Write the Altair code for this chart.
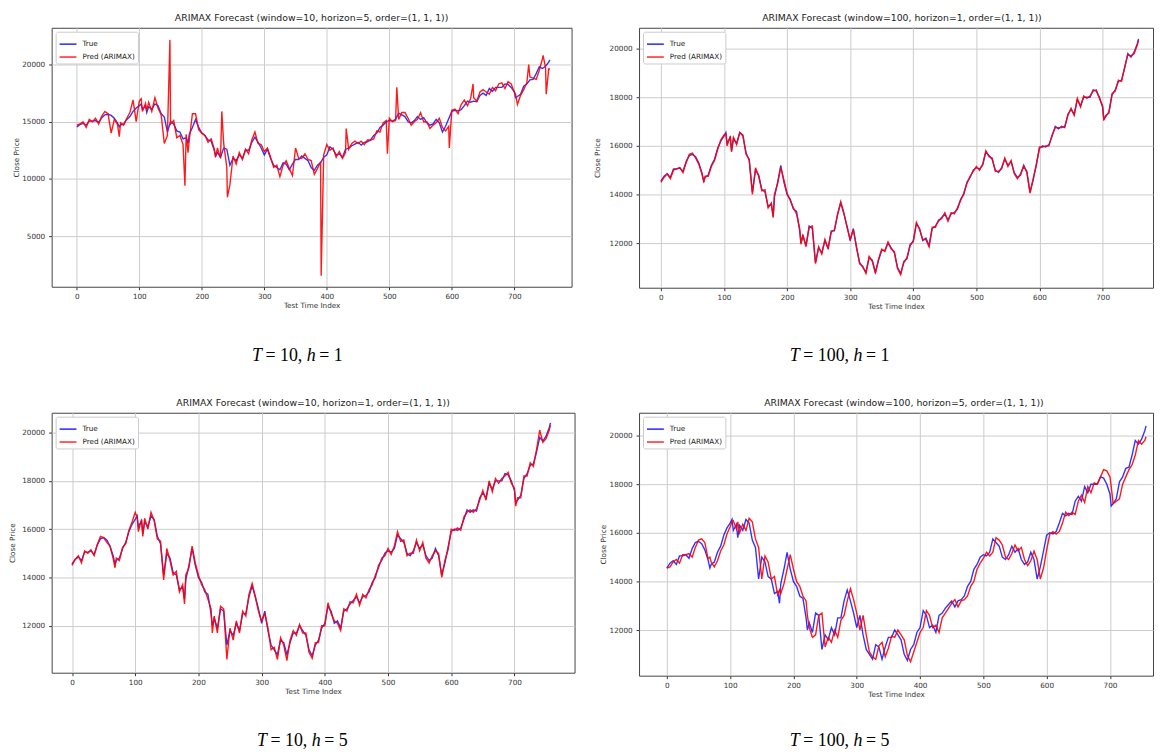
import altair as alt
import pandas as pd

# ---------------- data ----------------
IDX = [0, 5, 10, 15, 20, 25, 30, 35, 40, 45,
       50, 55, 60, 65, 68, 70, 75, 80, 85, 90, 95,
       100, 103, 105, 110, 112, 115, 120, 125, 130, 135, 140, 145,
       150, 155, 160, 165, 170, 175, 178, 180, 185, 190, 195,
       200, 205, 210, 215, 220, 222, 225, 230, 235, 240, 245,
       250, 255, 260, 265, 270, 275, 280, 285, 290, 295,
       300, 305, 310, 315, 320, 325, 330, 335, 340, 345,
       350, 355, 360, 365, 370, 375, 380, 385, 390, 395,
       400, 405, 410, 415, 420, 425, 430, 435, 440, 445,
       450, 455, 460, 465, 470, 475, 480, 485, 490, 495,
       500, 505, 510, 515, 520, 525, 530, 535, 540, 545,
       550, 555, 560, 565, 570, 575, 580, 585, 590, 595,
       600, 605, 610, 615, 620, 625, 630, 635, 640, 645,
       650, 655, 660, 665, 670, 675, 680, 685, 690, 695,
       700, 702, 705, 710, 715, 720, 725, 730, 735, 740, 745,
       750, 755, 757]

TRUE = [14550, 14750, 14850, 14700, 15050, 15050, 15100, 14950, 15350, 15600,
        15650, 15550, 15300, 14900, 14550, 14700, 14800, 15200, 15450, 15900, 16200,
        16400, 16550, 16100, 16350, 15800, 16300, 16100, 16550, 16400, 15700, 15400, 14100,
        15000, 14800, 14200, 14100, 13500, 13600, 13100, 13900, 14500, 15200, 14500,
        14000, 13800, 13400, 13300, 12500, 12000, 12300, 11900, 12700, 12600, 11200,
        11800, 11600, 12100, 11800, 12500, 12500, 13200, 13650, 13200, 12700,
        12100, 12600, 11800, 11200, 11000, 10800, 11400, 11300, 10800, 11300,
        11700, 11700, 12000, 11800, 11600, 11000, 10750, 11200, 11400, 11900,
        12100, 12800, 12600, 12100, 12200, 11900, 12600, 12700, 12900, 13050,
        13200, 12950, 13200, 13250, 13400, 13800, 14000, 14500, 14700, 15000,
        15100, 15050, 15200, 15750, 15600, 15450, 15000, 14900, 15100, 15450,
        15200, 15350, 14900, 14700, 14800, 15200, 14900, 14100, 14600, 15250,
        15900, 16000, 15950, 16050, 16400, 16800, 16700, 16800, 16750, 17300,
        17500, 17300, 17900, 17650, 18000, 18000, 18000, 18300, 18250, 18000,
        17600, 17100, 17200, 17400, 18100, 18300, 18650, 18700, 19200, 19800, 19650,
        19850, 20200, 20400]

# top-left panel (window=10, horizon=5): noisy prediction + isolated spikes
PRED_TL = [14700, 14800, 15000, 14500, 15200, 15000, 15300, 14800, 15500, 15900,
           15700, 14000, 15200, 14800, 13700, 14900, 14700, 15300, 15800, 16900, 15000,
           16800, 17000, 15900, 16600, 16000, 16700, 15900, 17100, 16200, 15600, 13100, 13800,
           14800, 15100, 13600, 13800, 13000, 13900, 12300, 13400, 15700, 15700, 14300,
           14000, 13800, 13200, 13500, 12600, 11900, 12700, 11800, 13100, 11000, 9500,
           12000, 11300, 12300, 11700, 12600, 12200, 13400, 14100, 13100, 13000,
           12400, 12700, 11900, 11000, 11200, 10200, 11200, 11600, 10900, 10300,
           12700, 11800, 11800, 12200, 11700, 11600, 10400, 10900, 11500, 12100,
           13000, 12500, 12700, 11900, 12400, 11800, 12300, 12600, 13100, 13300,
           13100, 13300, 13000, 13400, 13400, 13500, 14200, 14100, 14900, 15100,
           15300, 15000, 15100, 15200, 15800, 15800, 15300, 14700, 15000, 15200,
           15800, 15000, 15000, 14400, 14700, 14900, 15300, 14500, 14200, 14600,
           16000, 16100, 15700, 16500, 16900, 16400, 17000, 17100, 16800, 17600,
           17800, 17600, 17400, 18000, 17700, 18300, 18400, 17900, 18500, 18300,
           17600, 17400, 16500, 17300, 17800, 18400, 18900, 18800, 18700, 19500, 20500,
           19700, 19600, 19600]
SPIKE_TL_IDX = [149, 173, 232, 241, 391, 431, 497, 512, 596, 634, 723, 746, 751]
SPIKE_TL_VAL = [22150, 9400, 15900, 8400, 1550, 14400, 12200, 18000, 12700, 18300, 20000, 20800, 17400]

# top-right panel (window=100, horizon=1)
PRED_TR = [14500, 14700, 14850, 14650, 15000, 15050, 15100, 14900, 15300, 15650,
           15700, 15500, 15250, 14850, 14500, 14750, 14750, 15150, 15400, 15850, 16250,
           16450, 16500, 16000, 16400, 15750, 16350, 16050, 16550, 16450, 15650, 15450, 14000,
           15100, 14750, 14150, 14200, 13450, 13650, 13050, 14000, 14450, 15100, 14600,
           14050, 13750, 13450, 13200, 12600, 11950, 12350, 11850, 12650, 12700, 11150,
           11850, 11550, 12150, 11750, 12450, 12550, 13150, 13700, 13250, 12650,
           12150, 12550, 11850, 11150, 11050, 10750, 11450, 11250, 10750, 11350,
           11750, 11650, 12050, 11750, 11650, 10950, 10700, 11250, 11350, 11950,
           12050, 12850, 12550, 12150, 12150, 11850, 12650, 12650, 12950, 13000,
           13250, 12900, 13250, 13200, 13450, 13750, 14050, 14450, 14750, 14950,
           15150, 15000, 15250, 15800, 15550, 15500, 14950, 14950, 15050, 15500,
           15150, 15400, 14850, 14650, 14850, 15150, 14950, 14050, 14650, 15200,
           15950, 15950, 16000, 16000, 16450, 16750, 16750, 16750, 16800, 17250,
           17550, 17250, 17950, 17600, 18050, 17950, 18050, 18250, 18300, 17950,
           17650, 17050, 17250, 17350, 18150, 18250, 18700, 18650, 19250, 19750, 19700,
           19800, 20150, 20350]

# bottom-left panel (window=10, horizon=1)
PRED_BL = [14500, 14750, 14900, 14600, 15100, 15000, 15150, 14900, 15350, 15700,
           15650, 15450, 15300, 14800, 14400, 14800, 14700, 15250, 15400, 15950, 16300,
           16700, 16500, 15900, 16400, 15700, 16450, 16000, 16700, 16350, 15600, 15500, 13900,
           15200, 14700, 14100, 14250, 13400, 13700, 12900, 14100, 14400, 15300, 14600,
           14100, 13700, 13500, 13100, 12700, 11700, 12400, 11700, 12800, 12700, 10600,
           11900, 11400, 12200, 11700, 12600, 12400, 13300, 13750, 13200, 12600,
           12200, 12500, 11900, 11000, 11100, 10600, 11500, 11200, 10550, 11400,
           11800, 11600, 12050, 11700, 11700, 10900, 10650, 11300, 11300, 12000,
           12000, 12950, 12500, 12200, 12100, 11800, 12700, 12600, 13000, 12950,
           13300, 12850, 13300, 13150, 13500, 13700, 14100, 14400, 14800, 14900,
           15200, 14950, 15300, 15900, 15500, 15550, 14900, 15000, 15000, 15550,
           15100, 15450, 14800, 14600, 14900, 15100, 15000, 14000, 14700, 15150,
           16000, 15950, 16050, 15950, 16500, 16700, 16800, 16700, 16850, 17200,
           17600, 17200, 18000, 17550, 18100, 17900, 18100, 18200, 18350, 17900,
           17700, 16950, 17300, 17300, 18200, 18200, 18750, 18600, 19300, 20100, 19600,
           19750, 20100, 20300]

# bottom-right panel (window=100, horizon=5): lagged prediction
PRED_BR = [14550, 14600, 14800, 14900, 14750, 15100, 15100, 15150, 15000, 15400,
           15700, 15750, 15600, 14950, 15000, 14800, 14600, 14850, 15250, 15500, 15950,
           16250, 16450, 16500, 16150, 16450, 16000, 16350, 16100, 16600, 16450, 15750, 15400,
           14100, 15050, 14800, 14100, 14200, 13450, 13650, 13500, 13900, 14500, 15100,
           14500, 14000, 13800, 13400, 13200, 12600, 12100, 11700, 11800, 12600, 12700,
           11300, 11700, 11500, 12000, 11700, 12400, 12600, 13200, 13700, 13250,
           12700, 12000, 12600, 11800, 11100, 10900, 10800, 11350, 11500, 10900,
           11250, 11750, 11700, 12000, 11800, 11600, 10950, 10700, 11100, 11500,
           11900, 12100, 12800, 12600, 12100, 12200, 11900, 12500, 12700, 12900,
           13100, 13250, 12950, 13200, 13250, 13400, 13800, 14000, 14500, 14750,
           14950, 15200, 15050, 15200, 15800, 15700, 15500, 15000, 14900, 15150,
           15500, 15250, 15400, 14900, 14650, 14850, 15250, 14900, 14100, 14550,
           15300, 15950, 16050, 15950, 16050, 16400, 16850, 16700, 16850, 16750,
           17300, 17550, 17250, 17900, 17650, 18050, 18000, 18300, 18600, 18550,
           18300, 17900, 17200, 17300, 17400, 18000, 18300, 18600, 18800, 19200, 19800,
           19650, 19800, 19950]

TITLES = [
    "ARIMAX Forecast (window=10, horizon=5, order=(1, 1, 1))",
    "ARIMAX Forecast (window=100, horizon=1, order=(1, 1, 1))",
    "ARIMAX Forecast (window=10, horizon=1, order=(1, 1, 1))",
    "ARIMAX Forecast (window=100, horizon=5, order=(1, 1, 1))",
]
CAP_T = ["10", "100", "10", "100"]
CAP_H = ["1", "1", "5", "5"]
X_TICKS = [0, 100, 200, 300, 400, 500, 600, 700]
Y_TICKS_WIDE = [5000, 10000, 15000, 20000]
Y_TICKS = [12000, 14000, 16000, 18000, 20000]
SERIES = ["True", "Pred (ARIMAX)"]

# ---------------- build tables ----------------
def frame(idx, vals, name):
    return pd.DataFrame({"idx": idx, "val": vals, "series": name})

true_df = frame(IDX, TRUE, "True")
tl = pd.concat([frame(IDX, PRED_TL, "Pred (ARIMAX)"),
                frame(SPIKE_TL_IDX, SPIKE_TL_VAL, "Pred (ARIMAX)")]).sort_values("idx")
preds = [tl,
         frame(IDX, PRED_TR, "Pred (ARIMAX)"),
         frame(IDX, PRED_BL, "Pred (ARIMAX)"),
         frame(IDX, PRED_BR, "Pred (ARIMAX)")]

# layout settings per panel (pixels / axis ranges, not data)
PANELS = [
    dict(w=524, h=261, xd=[-40.2, 791.6], yd=[579, 23208], yt=Y_TICKS_WIDE, tx=-35, dx=0, cx=202, cy=331),
    dict(w=518, h=262, xd=[-34.6, 779.9], yd=[10163, 20857], yt=Y_TICKS, tx=-42, dx=6, cx=152, cy=331),
    dict(w=527, h=262, xd=[-32.2, 795.1], yd=[10053, 20822], yt=Y_TICKS, tx=-39, dx=0, cx=207, cy=331),
    dict(w=518, h=265, xd=[-43.9, 768.0], yd=[10122, 20939], yt=Y_TICKS, tx=-36, dx=8, cx=152, cy=331),
]

color_scale = alt.Scale(domain=SERIES, range=["#0000ff", "#ff0000"])
legend = alt.Legend(orient="top-left", offset=4, title=None, fillColor="white",
                    strokeColor="#cccccc", cornerRadius=2, padding=3,
                    symbolType="stroke", symbolSize=289, symbolStrokeWidth=1.5,
                    symbolOpacity=0.85, labelFontSize=7.3, labelFont="DejaVu Sans",
                    labelColor="#222222", labelOffset=5, rowPadding=0)

FS = 18.0


def caption_layers(x0, y0, tnum, hnum):
    one = alt.Data(values=[{"k": 0}])
    w_eq_t = (0.564 + 0.25 + 0.5 * len(tnum) + 0.25) * FS
    x1 = x0 + 0.556 * FS + 3.5
    x2 = x1 + w_eq_t + 4.5
    x3 = x2 + 0.5 * FS + 3.5
    pieces = [("T", "italic", x0), ("= " + tnum + ",", "normal", x1),
              ("h", "italic", x2), ("= " + hnum, "normal", x3)]
    out = []
    for txt, style, xx in pieces:
        out.append(alt.Chart(one).mark_text(
            text=txt, font="Liberation Serif", fontSize=FS, fontStyle=style,
            align="left", baseline="middle", color="black"
        ).encode(x=alt.value(xx), y=alt.value(y0)))
    return out


def panel(i):
    p = PANELS[i]
    x = alt.X("idx:Q", scale=alt.Scale(domain=p["xd"], nice=False, zero=False),
              axis=alt.Axis(values=X_TICKS, title="Test Time Index", format="d",
                            labelPadding=3, titlePadding=2))
    y = alt.Y("val:Q", scale=alt.Scale(domain=p["yd"], nice=False, zero=False),
              axis=alt.Axis(values=p["yt"], title="Close Price", format="d",
                            labelPadding=4, titleX=p["tx"], titleBaseline="middle"))
    col = alt.Color("series:N", scale=color_scale, legend=legend)
    blue = alt.Chart(true_df).mark_line(strokeWidth=1.4, opacity=0.8, clip=True).encode(
        x=x, y=y, color=col)
    red = alt.Chart(preds[i]).mark_line(strokeWidth=1.4, opacity=0.9, clip=True).encode(
        x=x, y=y, color=col)
    layers = [blue, red] + caption_layers(p["cx"], p["cy"], CAP_T[i], CAP_H[i])
    return alt.layer(*layers).properties(
        width=p["w"], height=p["h"],
        title=alt.TitleParams(text=TITLES[i], fontSize=9.4, font="DejaVu Sans",
                              fontWeight="normal", color="#222222", offset=4,
                              anchor="middle", dx=p["dx"]))


chart = alt.concat(panel(0), panel(1), panel(2), panel(3), columns=2,
                   spacing={"row": 32, "column": 17}).resolve_scale(
    x="independent", y="independent", color="independent"
).resolve_legend(color="independent").properties(
    padding={"left": 0, "top": 2, "right": 0, "bottom": 0}
).configure_view(stroke="#444444", strokeWidth=1).configure_axis(
    labelFont="DejaVu Sans", labelFontSize=7.3, labelColor="#333333",
    titleFont="DejaVu Sans", titleFontSize=7.3, titleColor="#333333",
    titleFontWeight="normal", tickSize=3, tickColor="#333333", domain=False,
    gridColor="#cccccc", gridWidth=1
)

chart.save("out.html", embed_options={"renderer": "svg", "actions": False})
